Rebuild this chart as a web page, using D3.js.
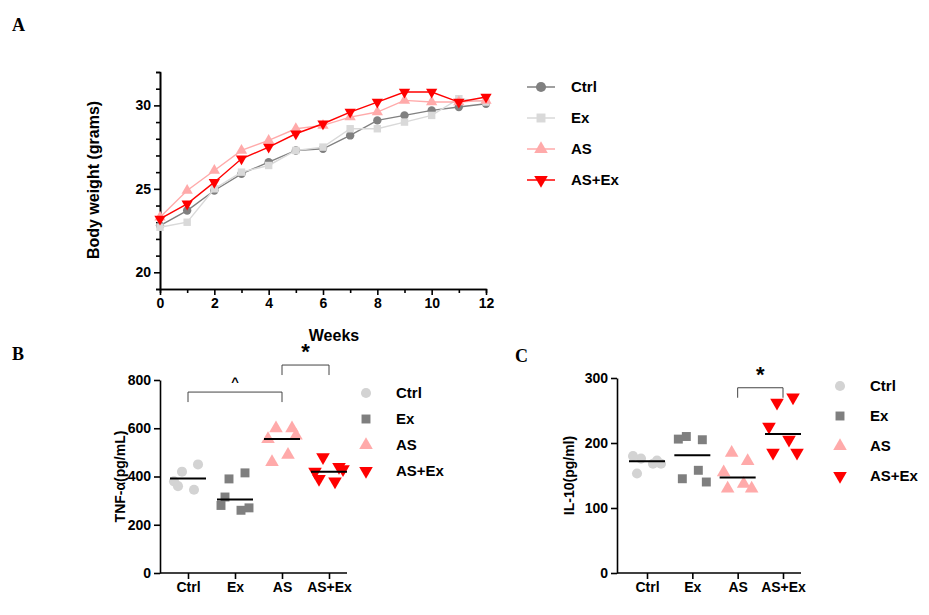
<!DOCTYPE html>
<html><head><meta charset="utf-8">
<script src="https://cdn.jsdelivr.net/npm/d3@7"></script>
<style>body{margin:0;background:#fff}text{font-family:Arial,"Liberation Sans",sans-serif}</style>
</head><body><svg id="c" width="929" height="615"></svg>
<script>
// Panel A data (weeks 0..12)
var weeks = d3.range(0, 13)
var ctrlW = [22.8,23.7,24.9,25.9,26.6,27.3,27.4,28.2,29.1,29.4,29.7,29.9,30.1]
var exW   = [22.7,23.0,25.0,26.0,26.4,27.3,27.5,28.6,28.6,29.0,29.4,30.4,30.2]
var asW   = [23.3,24.9,26.1,27.3,27.9,28.6,28.8,29.3,29.6,30.3,30.2,30.2,30.3]
var asexW = [23.2,24.1,25.4,26.8,27.5,28.3,28.9,29.6,30.2,30.8,30.8,30.2,30.5]
var groups = ['Ctrl','Ex','AS','AS+Ex']
// Panel B TNF-a
var tnf = [[420,450,380,345,360],[390,415,280,260,315,270],[600,600,555,490,460,570],[480,440,420,380,390,430]]
var tnfMid = [392,305,555,420]
// Panel C IL-10
var il10 = [[176,173,180,168,153,168],[210,205,206,158,145,140],[185,172,155,137,130,130],[262,270,225,205,185,185]]
var il10Mid = [172,181,147,214]

var svg = d3.select('#c')
var symA = [d3.symbolCircle, d3.symbolSquare, d3.symbolTriangle, d3.symbolTriangle]
var colA = ['#808080','#d9d9d9','#ffaaaa','#ff0000']
var colB = ['#d3d3d3','#7f7f7f','#ffaaaa','#ff0000']

function mark(g, i, x, y, col, size) {
	g.append('path').attr('d', d3.symbol().type(symA[i]).size(size)())
		.attr('transform', 'translate(' + x + ',' + y + ')' + (i == 3 ? ' rotate(180)' : ''))
		.attr('fill', col)
}
function styleAxis(g) {
	g.selectAll('path,line').attr('stroke', '#000').attr('stroke-width', 1.6)
	g.selectAll('text').attr('font-size', 14).attr('font-weight', 'bold')
}
function legend(x, y0, dy, cols, line) {
	groups.forEach(function(name, i) {
		var y = y0 + i * dy
		if(line) svg.append('line').attr('x1', x - 14).attr('x2', x + 14).attr('y1', y).attr('y2', y).attr('stroke', cols[i]).attr('stroke-width', 1.5)
		mark(svg, i, x, y, cols[i], 80)
		svg.append('text').attr('x', x + 30).attr('y', y + 5).attr('font-size', 15).attr('font-weight', 'bold').text(name)
	})
}
function panelLetter(t, x, y) {
	svg.append('text').attr('x', x).attr('y', y).text(t).attr('font-size', 18).attr('font-weight', 'bold')
		.style('font-family', '"Liberation Serif",serif')
}

// Panel A
var xA = d3.scaleLinear().domain([0, 12]).range([160, 486])
var yA = d3.scaleLinear().domain([19, 32]).range([289, 72])
svg.append('g').attr('transform', 'translate(0,289)')
	.call(d3.axisBottom(xA).tickValues(d3.range(0, 13, 2)).tickSizeOuter(0)).call(styleAxis)
svg.append('g').attr('transform', 'translate(0,289)')
	.call(d3.axisBottom(xA).tickValues(d3.range(1, 13, 2)).tickFormat('').tickSize(4)).call(styleAxis)
svg.append('g').attr('transform', 'translate(160,0)')
	.call(d3.axisLeft(yA).tickValues([20,25,30]).tickSizeOuter(0)).call(styleAxis)
svg.append('g').attr('transform', 'translate(160,0)')
	.call(d3.axisLeft(yA).tickValues(d3.range(19, 33).filter(function(v){return v%5})).tickFormat('').tickSize(4)).call(styleAxis)
var line = d3.line().x(function(d, i){return xA(weeks[i])}).y(function(d){return yA(d)})
;[ctrlW, exW, asW, asexW].forEach(function(s, i) {
	svg.append('path').attr('d', line(s)).attr('fill', 'none').attr('stroke', colA[i]).attr('stroke-width', 1.4)
	s.forEach(function(v, j) { mark(svg, i, xA(weeks[j]), yA(v), colA[i], 55) })
})
svg.append('text').attr('transform', 'translate(99,180) rotate(-90)').attr('text-anchor', 'middle')
	.attr('font-size', 16).attr('font-weight', 'bold').text('Body weight (grams)')
svg.append('text').attr('x', 334).attr('y', 341).attr('text-anchor', 'middle')
	.attr('font-size', 16).attr('font-weight', 'bold').text('Weeks')
legend(541, 87, 31, colA, true)
panelLetter('A', 12, 31)

// Dot plots
function dotPanel(xAxisX, x0, x1, y0, y1, ymax, tickStep, data, mids, ylabel, labelX) {
	var x = d3.scalePoint().domain(groups).range([x0, x1])
	var y = d3.scaleLinear().domain([0, ymax]).range([y0, y1])
	svg.append('g').attr('transform', 'translate(0,' + y0 + ')')
		.call(d3.axisBottom(x).tickSizeOuter(0)).call(styleAxis)
		.select('.domain').attr('d', 'M' + xAxisX + ',0H' + (x1 + 18))
	svg.append('g').attr('transform', 'translate(' + xAxisX + ',0)')
		.call(d3.axisLeft(y).tickValues(d3.range(0, ymax + 1, tickStep)).tickSizeOuter(0)).call(styleAxis)
	data.forEach(function(vals, i) {
		var cx = x(groups[i])
		vals.forEach(function(v, j) {
			var off = (j % 2 ? 1 : -1) * (6 + (j % 3) * 4)
			mark(svg, i, cx + off, y(v), colB[i], 80)
		})
		svg.append('line').attr('x1', cx - 18).attr('x2', cx + 18).attr('y1', y(mids[i])).attr('y2', y(mids[i]))
			.attr('stroke', '#000').attr('stroke-width', 2)
	})
	svg.append('text').attr('transform', 'translate(' + labelX + ',' + ((y0 + y1) / 2) + ') rotate(-90)')
		.attr('text-anchor', 'middle').attr('font-size', 14).attr('font-weight', 'bold').text(ylabel)
	return {x: x, y: y}
}
function bracket(p, a, b, v, sym, fs) {
	var xa = p.x(groups[a]), xb = p.x(groups[b]), yy = p.y(v)
	svg.append('path').attr('d', 'M' + xa + ',' + (yy + 10) + 'V' + yy + 'H' + xb + 'V' + (yy + 10))
		.attr('fill', 'none').attr('stroke', '#444').attr('stroke-width', 1)
	svg.append('text').attr('x', (xa + xb) / 2).attr('y', yy - 6).attr('text-anchor', 'middle')
		.attr('font-size', fs).attr('font-weight', 'bold').text(sym)
}

var pB = dotPanel(160, 188, 329, 573, 380, 800, 200, tnf, tnfMid, 'TNF-α(pg/mL)', 125)
bracket(pB, 0, 2, 750, '^', 13)
bracket(pB, 2, 3, 862, '*', 22)
legend(366, 393, 26, colB, false)
panelLetter('B', 12, 360)

var pC = dotPanel(617, 647, 783, 573, 378, 300, 100, il10, il10Mid, 'IL-10(pg/ml)', 574)
bracket(pC, 2, 3, 285, '*', 22)
legend(840, 386, 30, colB, false)
panelLetter('C', 515, 362)
</script></body></html>
